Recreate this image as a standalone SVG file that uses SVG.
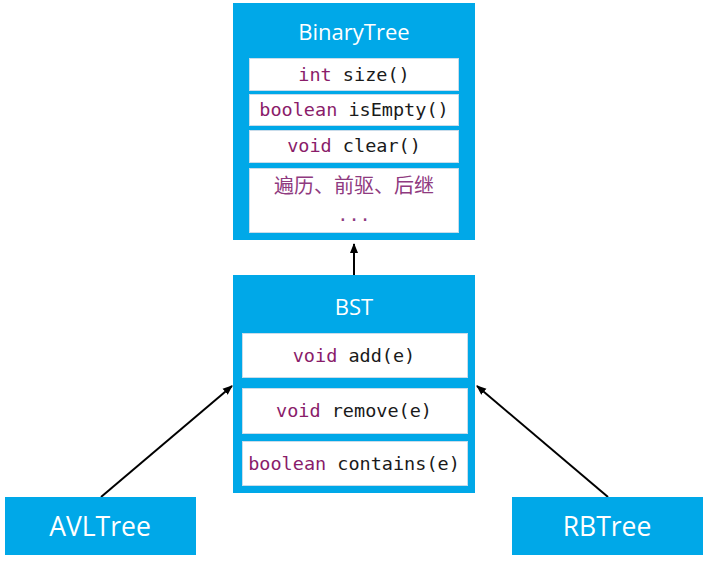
<svg xmlns="http://www.w3.org/2000/svg" width="708" height="561" viewBox="0 0 708 561">
<defs>
<marker id="arr" markerWidth="10" markerHeight="10" refX="9" refY="5" orient="auto" markerUnits="userSpaceOnUse">
<path d="M0,1 L10,5 L0,9 Z" fill="#000"/>
</marker>
<style>
.box{fill:#00A8E8;}
.row{fill:#fff;stroke:#c9dcea;stroke-width:1;}
.title{font-family:"Open Sans","Noto Sans","Liberation Sans",sans-serif;fill:#fff;text-anchor:middle;}
.code{font-family:"DejaVu Sans Mono","Liberation Mono",monospace;font-size:18.5px;fill:#1a1a1a;text-anchor:middle;}
.kw{fill:#8a1c6a;}
.cjk{font-family:"Noto Sans CJK SC","Noto Sans",sans-serif;font-size:20px;fill:#8f3a80;text-anchor:middle;}
.dots{fill:#8f3a80;}
.edge{stroke:#000;stroke-width:2;fill:none;marker-end:url(#arr);}
</style>
</defs>
<rect width="708" height="561" fill="#fff"/>
<g id="connectors">
<line class="edge" x1="354" y1="275" x2="354" y2="244"/>
<line class="edge" x1="101" y1="497" x2="232" y2="386"/>
<line class="edge" x1="608" y1="497" x2="477" y2="386"/>
</g>
<g id="BinaryTree">
<rect class="box" x="233" y="3" width="242" height="237"/>
<text class="title" x="354" y="40" font-size="22">BinaryTree</text>
<rect class="row" x="249.5" y="58.5" width="209" height="32"/>
<text class="code" x="354" y="81"><tspan class="kw">int</tspan> size()</text>
<rect class="row" x="249.5" y="94.5" width="209" height="31"/>
<text class="code" x="354" y="116"><tspan class="kw">boolean</tspan> isEmpty()</text>
<rect class="row" x="249.5" y="130.5" width="209" height="32"/>
<text class="code" x="354" y="152"><tspan class="kw">void</tspan> clear()</text>
<rect class="row" x="249.5" y="168.5" width="209" height="64"/>
<text class="cjk" x="354" y="193">遍历、前驱、后继</text>
<text class="code dots" x="354" y="221">...</text>
</g>
<g id="BST">
<rect class="box" x="233" y="275" width="242" height="218"/>
<text class="title" x="354" y="315" font-size="22">BST</text>
<rect class="row" x="242.5" y="333.5" width="225" height="44"/>
<text class="code" x="354" y="362"><tspan class="kw">void</tspan> add(e)</text>
<rect class="row" x="242.5" y="388.5" width="225" height="45"/>
<text class="code" x="354" y="417"><tspan class="kw">void</tspan> remove(e)</text>
<rect class="row" x="242.5" y="441.5" width="225" height="44"/>
<text class="code" x="354" y="470"><tspan class="kw">boolean</tspan> contains(e)</text>
</g>
<g id="AVLTree">
<rect class="box" x="5" y="497" width="191" height="58"/>
<text class="title" x="100" y="536" font-size="26.5">AVLTree</text>
</g>
<g id="RBTree">
<rect class="box" x="512" y="497" width="191" height="58"/>
<text class="title" x="607" y="536" font-size="26.5">RBTree</text>
</g>
</svg>
